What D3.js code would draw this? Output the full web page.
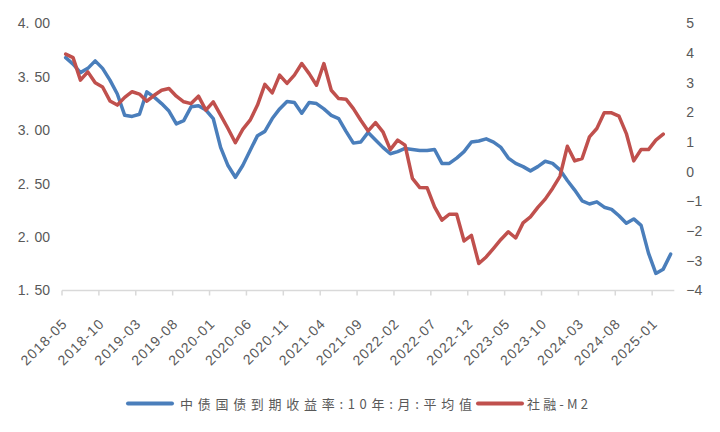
<!DOCTYPE html>
<html><head><meta charset="utf-8">
<script src="https://cdn.jsdelivr.net/npm/d3@7/dist/d3.min.js"></script>
<style>
html,body{margin:0;padding:0;background:#fff;}
svg{display:block;}
</style></head>
<body>
<svg id="chart" width="720" height="432"></svg>
<script>
// ---------- data ----------
const startYear = 2018, startMonth = 5, monthCount = 83; // 2018-05 .. 2025-03
const categories = [];
for (let i = 0; i < monthCount; i++) {
  const m = startMonth - 1 + i;
  const y = startYear + Math.floor(m / 12);
  categories.push(y + "-" + String(m % 12 + 1).padStart(2, "0"));
}
const xTickLabels = ["2018-05","2018-10","2019-03","2019-08","2020-01","2020-06","2020-11","2021-04","2021-09","2022-02","2022-07","2022-12","2023-05","2023-10","2024-03","2024-08","2025-01"];
const leftTicks = [1.5, 2.0, 2.5, 3.0, 3.5, 4.0];
const rightTicks = [-4, -3, -2, -1, 0, 1, 2, 3, 4, 5];
const seriesNames = ["中债国债到期收益率:10年:月:平均值", "社融-M2"];
// 10Y CGB yield, monthly average (left axis)
const yield10y = [3.68,3.62,3.54,3.58,3.65,3.58,3.47,3.34,3.14,3.13,3.15,3.36,3.31,3.25,3.18,3.06,3.09,3.22,3.23,3.19,3.11,2.84,2.67,2.56,2.67,2.81,2.95,2.99,3.11,3.20,3.27,3.26,3.16,3.26,3.25,3.20,3.14,3.11,2.99,2.88,2.89,2.98,2.91,2.84,2.78,2.80,2.83,2.82,2.81,2.81,2.82,2.69,2.69,2.74,2.80,2.89,2.90,2.92,2.89,2.84,2.74,2.69,2.66,2.62,2.66,2.71,2.69,2.63,2.53,2.44,2.34,2.31,2.33,2.28,2.26,2.20,2.13,2.17,2.11,1.85,1.66,1.70,1.84];
// TSF growth minus M2 growth (right axis)
const tsfMinusM2 = [3.97,3.85,3.09,3.37,3.00,2.86,2.39,2.25,2.51,2.70,2.62,2.38,2.58,2.75,2.81,2.55,2.36,2.30,2.55,2.08,2.36,1.91,1.46,0.98,1.43,1.74,2.25,2.95,2.66,3.26,2.98,3.26,3.65,3.31,2.92,3.65,2.75,2.47,2.45,2.13,1.74,1.38,1.66,1.35,0.75,1.07,0.90,-0.22,-0.53,-0.54,-1.18,-1.63,-1.43,-1.43,-2.33,-2.14,-3.09,-2.87,-2.58,-2.28,-2.02,-2.23,-1.72,-1.52,-1.20,-0.92,-0.56,-0.15,0.86,0.37,0.45,1.18,1.46,1.99,1.99,1.88,1.29,0.37,0.75,0.75,1.07,1.27];

// ---------- layout ----------
const colors = ["#4A7EBB", "#C0504D"];
const textColor = "#595959";
const plot = {left: 62, right: 674.3, top: 23.5, bottom: 290.5};
const svg = d3.select("#chart");

const x = d3.scaleBand().domain(categories).range([plot.left, plot.right]).padding(0);
const bw = x.bandwidth();
const xc = d => x(d) + bw / 2;
const yL = d3.scaleLinear().domain([1.5, 4]).range([plot.bottom, plot.top]);
const yR = d3.scaleLinear().domain([-4, 5]).range([plot.bottom, plot.top]);

// x axis line
svg.append("line").attr("x1", plot.left).attr("x2", plot.right)
  .attr("y1", plot.bottom).attr("y2", plot.bottom)
  .attr("stroke", "#d9d9d9").attr("stroke-width", 1.5);
// tick marks at category boundaries every 5 months
const tickIdx = d3.range(0, monthCount, 5);
svg.append("g").selectAll("line").data(tickIdx).join("line")
  .attr("x1", i => x(categories[i])).attr("x2", i => x(categories[i]))
  .attr("y1", plot.bottom).attr("y2", plot.bottom + 5)
  .attr("stroke", "#d9d9d9").attr("stroke-width", 1.5);

// x labels
const xAxis = svg.append("g").attr("transform", `translate(${bw/2},${plot.bottom})`)
  .call(d3.axisBottom(x).tickValues(xTickLabels).tickSize(0));
xAxis.select(".domain").remove();
xAxis.selectAll("text")
  .attr("x", 0).attr("y", 0).attr("dy", 0)
  .attr("transform", "translate(-1,34) rotate(-45)")
  .attr("text-anchor", "end")
  .style("font-family", "'Liberation Sans', Arial, sans-serif")
  .style("font-size", "14px").style("letter-spacing", "1.1px").attr("fill", textColor);

// left axis
const yAxisL = svg.append("g").attr("transform", `translate(${plot.left},0)`)
  .call(d3.axisLeft(yL).tickValues(leftTicks).tickFormat(d3.format(".2f")).tickSize(0).tickPadding(12));
yAxisL.select(".domain").remove();
yAxisL.selectAll("text")
  .style("font-family", "'Liberation Sans', Arial, sans-serif")
  .style("font-size", "14px").attr("fill", textColor)
  .each(function(d) {
    const s = d3.format(".2f")(d);
    const parts = s.split(".");
    const t = d3.select(this);
    t.text(null);
    t.append("tspan").text(parts[0] + ".");
    t.append("tspan").attr("dx", 5).text(parts[1]);
  });

// right axis
const yAxisR = svg.append("g").attr("transform", `translate(${plot.right},0)`)
  .call(d3.axisRight(yR).tickValues(rightTicks).tickFormat(d3.format("d")).tickSize(0).tickPadding(12));
yAxisR.select(".domain").remove();
yAxisR.selectAll("text")
  .style("font-family", "'Liberation Sans', Arial, sans-serif")
  .style("font-size", "14px").attr("fill", textColor);

// lines
const lineL = d3.line().x((d, i) => xc(categories[i])).y(d => yL(d));
const lineR = d3.line().x((d, i) => xc(categories[i])).y(d => yR(d));
svg.append("path").datum(yield10y).attr("d", lineL)
  .attr("fill", "none").attr("stroke", colors[0]).attr("stroke-width", 3.5)
  .attr("stroke-linejoin", "round").attr("stroke-linecap", "round");
svg.append("path").datum(tsfMinusM2).attr("d", lineR)
  .attr("fill", "none").attr("stroke", colors[1]).attr("stroke-width", 3.5)
  .attr("stroke-linejoin", "round").attr("stroke-linecap", "round");

// legend
const legY = 403.5;
const legItems = [
  {lineX: 128, textX: 180, textLen: 292},
  {lineX: 478, textX: 527, textLen: 61}
];
const legend = svg.append("g");
seriesNames.forEach((name, k) => {
  const it = legItems[k];
  legend.append("line").attr("x1", it.lineX).attr("x2", it.lineX + 44).attr("y1", legY).attr("y2", legY)
    .attr("stroke", colors[k]).attr("stroke-width", 4).attr("stroke-linecap", "round");
  legend.append("text").attr("x", it.textX).attr("y", legY + 5)
    .attr("textLength", it.textLen).attr("lengthAdjust", "spacing")
    .style("font-family", "'Noto Sans CJK SC', sans-serif").style("font-size", "13px")
    .attr("fill", textColor).text(name);
});
</script>
</body></html>
